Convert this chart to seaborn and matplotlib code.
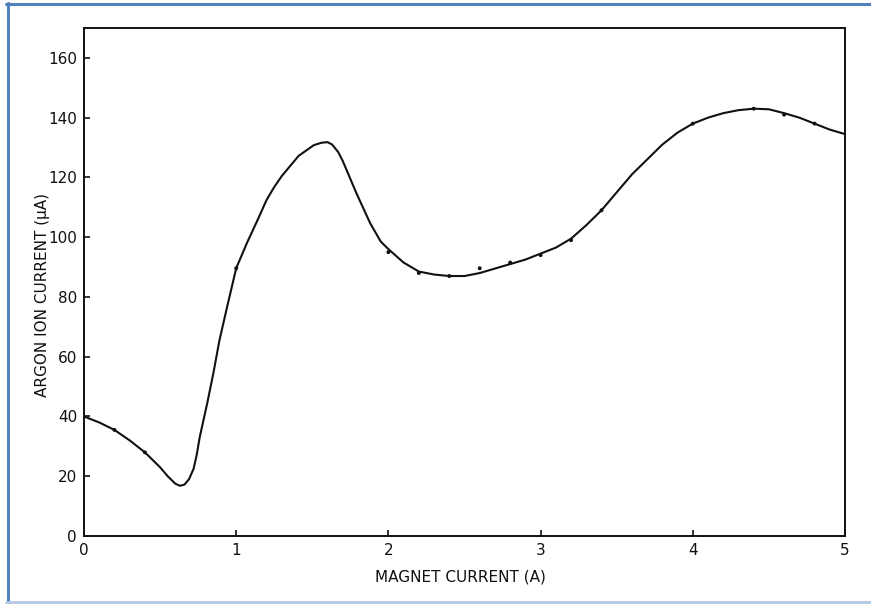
import matplotlib
matplotlib.use("Agg")
import matplotlib.pyplot as plt
import pandas as pd
import seaborn as sns
from matplotlib.lines import Line2D

# curve
magnet_current = [0.0, 0.1, 0.2, 0.3, 0.4, 0.5, 0.55, 0.6, 0.63, 0.66, 0.69, 0.72, 0.74,
                  0.76, 0.81, 0.85, 0.89, 0.94, 1.0, 1.07, 1.14, 1.2, 1.25, 1.3, 1.41, 1.51,
                  1.56, 1.6, 1.63, 1.67, 1.7, 1.79, 1.88, 1.95, 2.0, 2.1, 2.2, 2.3, 2.4,
                  2.5, 2.6, 2.7, 2.8, 2.9, 3.0, 3.1, 3.2, 3.3, 3.4, 3.5, 3.6, 3.7, 3.8,
                  3.9, 4.0, 4.1, 4.2, 4.3, 4.4, 4.5, 4.6, 4.7, 4.8, 4.9, 5.0]
ion_current = [40, 38, 35.5, 32, 28, 23, 20, 17.5, 16.8, 17.2, 19, 22.5, 27,
               33, 44.5, 54.5, 65.5, 76.6, 89.6, 98, 105.7, 112.5, 116.8, 120.5, 127.2, 130.8,
               131.6, 131.8, 131, 128.5, 125.5, 114.7, 104.7, 98.5, 96, 91.5, 88.5, 87.5, 87,
               87, 88, 89.5, 91, 92.5, 94.5, 96.5, 99.5, 104, 109, 115, 121, 126, 131,
               135, 138, 140, 141.5, 142.5, 143, 142.8, 141.5, 140, 138, 136, 134.5]

# measured points (small dots)
pts_x = [0.2, 0.4, 1.0, 2.0, 2.2, 2.4, 2.6, 2.8, 3.0, 3.2, 3.4, 4.0, 4.4, 4.6, 4.8]
pts_y = [35.5, 28, 89.6, 95, 88, 87, 89.6, 91.5, 94, 99, 109, 138, 143, 141, 138]

x_ticks = [0, 1, 2, 3, 4, 5]
y_ticks = [0, 20, 40, 60, 80, 100, 120, 140, 160]

curve = pd.DataFrame({"x": magnet_current, "y": ion_current})
points = pd.DataFrame({"x": pts_x, "y": pts_y})

sns.set_style("ticks")
plt.rcParams['font.family'] = ['DejaVu Sans']

fig = plt.figure(figsize=(8.71, 6.04), dpi=100)
ax = fig.add_axes([84 / 871, 1 - 536 / 604, 761 / 871, 508 / 604])

sns.lineplot(data=curve, x="x", y="y", ax=ax, color="#111111", linewidth=1.5,
             estimator=None, sort=False)
sns.scatterplot(data=points, x="x", y="y", ax=ax, color="#111111", s=8,
                edgecolor="none", zorder=3)

ax.set_xlim(0, 5)
ax.set_ylim(0, 170)
ax.set_xticks(x_ticks)
ax.set_yticks(y_ticks)
ax.tick_params(direction="in", length=4, width=1.2, labelsize=11, pad=5,
               colors="#111111")
for s in ax.spines.values():
    s.set_linewidth(1.4)
    s.set_color("#111111")

ax.set_xlabel("MAGNET CURRENT (A)", fontsize=11, color="#111111")
ax.set_ylabel("ARGON ION CURRENT (\u03bcA)", fontsize=11, color="#111111")
ax.xaxis.set_label_coords(0.495, -0.066)
ax.yaxis.set_label_coords(-0.045, 0.474)

# blue frame around the scan
fig.add_artist(Line2D([6 / 871, 1], [1 - 3.5 / 604] * 2, color="#4f81bd", lw=2.2))
fig.add_artist(Line2D([7.5 / 871] * 2, [1 - 3 / 604, 1 - 602 / 604], color="#4f81bd", lw=2.2))
fig.add_artist(Line2D([6 / 871, 1], [1 - 601.5 / 604] * 2, color="#b3c9e3", lw=2))

fig.savefig("out.png", dpi=100)
